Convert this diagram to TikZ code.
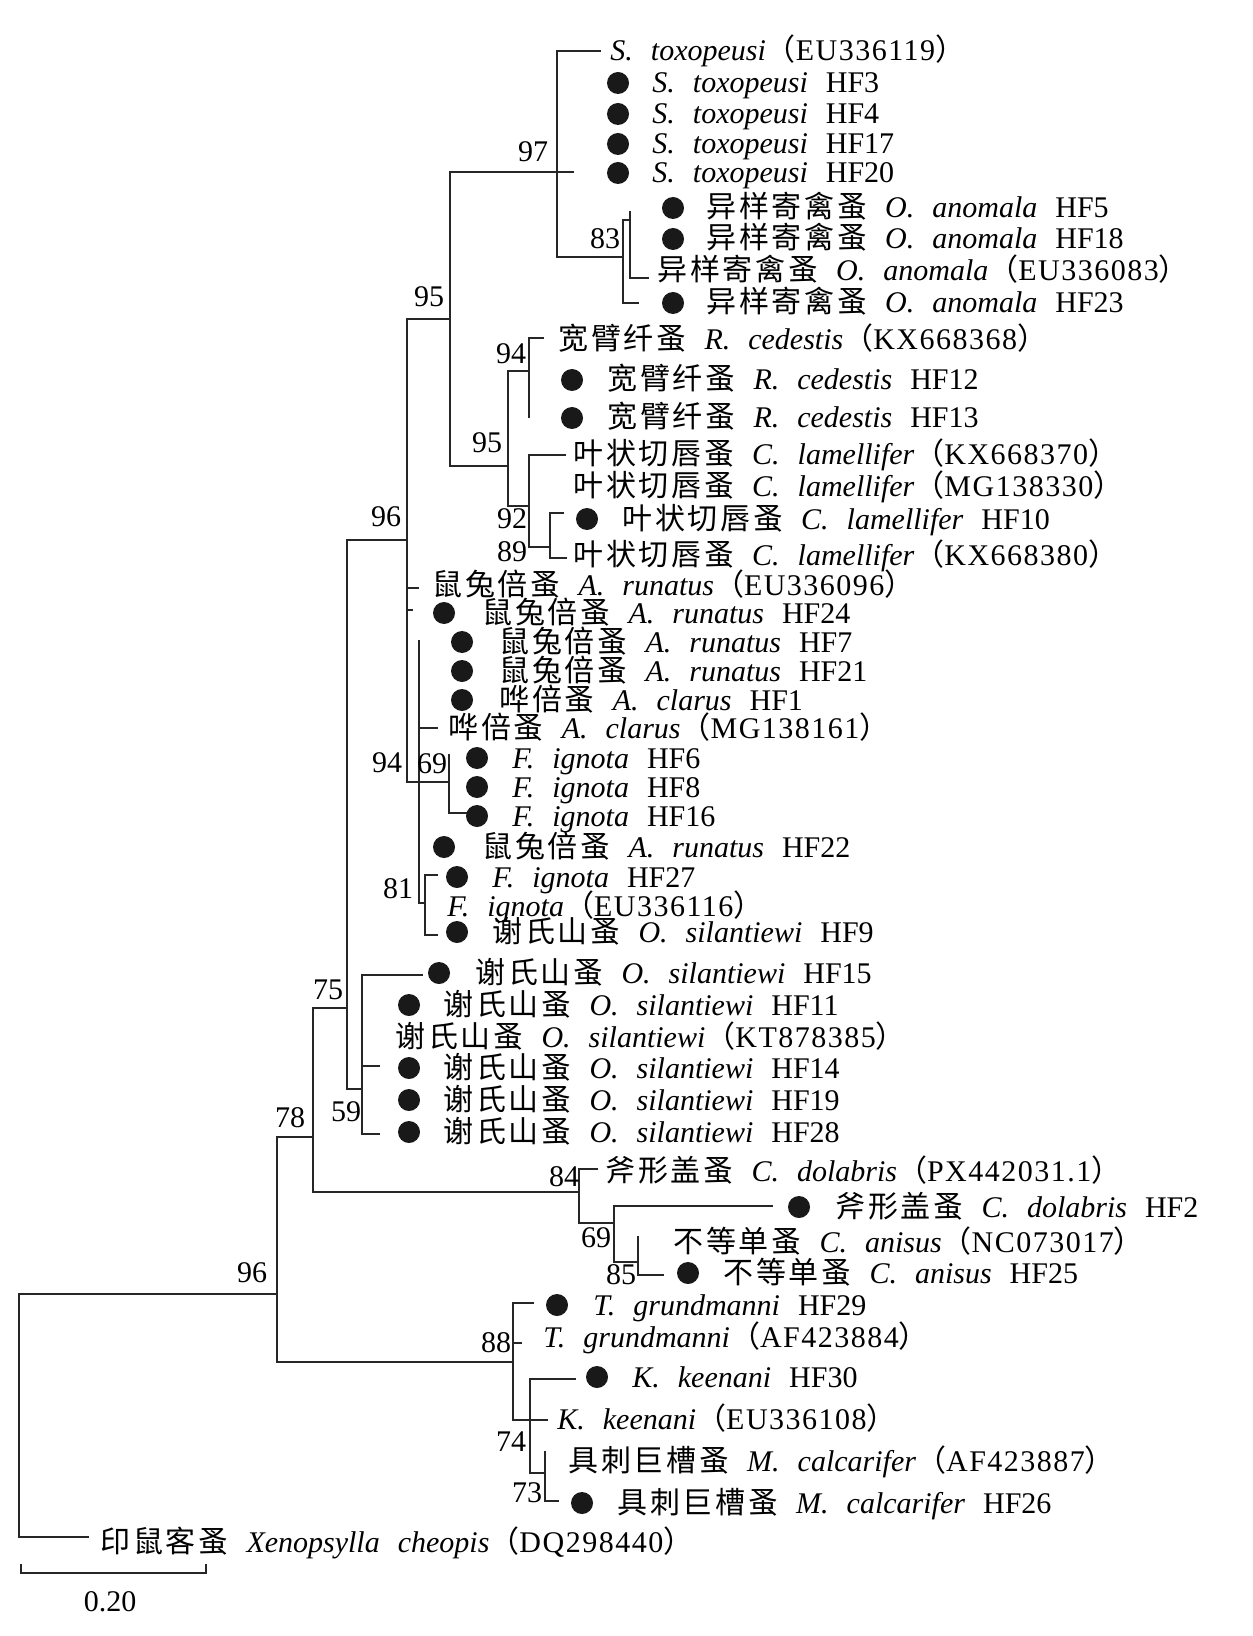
\documentclass[tikz,border=0pt]{standalone}
\usepackage{fontspec}
\setmainfont{Liberation Serif}
\newfontfamily\zhfont[LetterSpace=9]{Noto Sans CJK SC}
\newfontfamily\accfont[LetterSpace=5]{Liberation Serif}
\usetikzlibrary{positioning}
\newcommand{\zh}[1]{{\zhfont #1}}
\newcommand{\gap}{\hspace{0.6em}}
\newcommand{\accno}[1]{\zh{（}{\accfont #1}\zh{）}}
\tikzset{
  branch/.style={line width=0.9pt, draw=black!85, line cap=rect},
  tip/.style={anchor=base west, inner sep=0pt, yshift=-5pt, font=\fontsize{15}{18}\selectfont},
  dot/.style={circle, fill=black!90, inner sep=0pt, minimum size=11pt},
  boot/.style={inner sep=0pt, font=\fontsize{15}{18}\selectfont},
}
\begin{document}
\begin{tikzpicture}[x=0.5pt, y=-0.5pt]
\useasboundingbox (0,0) rectangle (1252,1636);

% inner nodes
\coordinate (root) at (19,1294);
\coordinate (nA) at (277,1294);
\coordinate (nB) at (313,1137);
\coordinate (nC) at (347,1008);
\coordinate (nD) at (407,540);
\coordinate (nE) at (450,319);
\coordinate (nF) at (557,172);
\coordinate (nG) at (623,257);
\coordinate (nH) at (630,220);
\coordinate (nI) at (508,466);
\coordinate (nJ) at (529,371);
\coordinate (nK) at (529,506);
\coordinate (nL) at (550,547);
\coordinate (nDb) at (407,782);
\coordinate (nM) at (419,782);
\coordinate (nN) at (449,782);
\coordinate (nO) at (425,903);
\coordinate (nP) at (362,1089);
\coordinate (nQ) at (579,1192);
\coordinate (nR) at (614,1223);
\coordinate (nS) at (638,1262);
\coordinate (nT) at (513,1362);
\coordinate (nU) at (530,1420);
\coordinate (nV) at (545,1473);

% branch ends
\coordinate (e1) at (600,51);
\coordinate (e5) at (573,172);
\coordinate (e6) at (630,212);
\coordinate (e8) at (648,278);
\coordinate (e9) at (638,303);
\coordinate (e10) at (543,338);
\coordinate (e12) at (529,417);
\coordinate (e13) at (565,455);
\coordinate (e15) at (563,513);
\coordinate (e16) at (566,558);
\coordinate (e17) at (418,588);
\coordinate (e18) at (412,610);
\coordinate (e19) at (419,641);
\coordinate (e22) at (437,728);
\coordinate (e23) at (449,755);
\coordinate (e25) at (467,813);
\coordinate (e27) at (437,875);
\coordinate (e29) at (437,935);
\coordinate (e30) at (422,975);
\coordinate (e33) at (379,1066);
\coordinate (e35) at (379,1134);
\coordinate (e36) at (597,1169);
\coordinate (e37) at (772,1206);
\coordinate (e38) at (638,1237);
\coordinate (e39) at (663,1275);
\coordinate (e40) at (533,1303);
\coordinate (e41) at (521,1343);
\coordinate (e42) at (575,1379);
\coordinate (e43) at (547,1420);
\coordinate (e44) at (545,1452);
\coordinate (e45) at (558,1501);
\coordinate (e46) at (88,1537);

\foreach \a/\b in {root/nA, root/e46, nA/nB, nA/nT, nB/nC, nB/nQ, nC/nD, nC/nP,
    nD/nE, nD/nDb, nE/nF, nE/nI, nF/e1, nF/e5, nF/nG, nG/nH, nG/e9, nH/e6, nH/e8,
    nI/nJ, nI/nK, nJ/e10, nJ/e12, nK/e13, nK/nL, nL/e15, nL/e16,
    nDb/e17, nDb/e18, nDb/nM, nM/e19, nM/e22, nM/nN, nM/nO, nN/e23, nN/e25,
    nO/e27, nO/e29, nP/e30, nP/e33, nP/e35, nQ/e36, nQ/nR, nR/e37, nR/nS,
    nS/e38, nS/e39, nT/e40, nT/e41, nT/nU, nU/e42, nU/e43, nU/nV, nV/e44, nV/e45}
  \draw[branch] (\a) |- (\b);

% bootstrap values
\node[boot] (b97) at (533,152) {97};
\node[boot] (b83) at (605,239) {83};
\node[boot] (b95a) at (429,297) {95};
\node[boot] (b94a) at (511,354) {94};
\node[boot] (b95b) at (487,443) {95};
\node[boot] (b96a) at (386,517) {96};
\node[boot] (b92) at (512,519) {92};
\node[boot] (b89) at (512,552) {89};
\node[boot] (b94b) at (387,763) {94};
\node[boot] (b69a) at (432,764) {69};
\node[boot] (b81) at (398,889) {81};
\node[boot] (b75) at (328,990) {75};
\node[boot] (b59) at (346,1112) {59};
\node[boot] (b78) at (290,1118) {78};
\node[boot] (b84) at (564,1177) {84};
\node[boot] (b69b) at (596,1238) {69};
\node[boot] (b85) at (621,1275) {85};
\node[boot] (b96b) at (252,1273) {96};
\node[boot] (b88) at (496,1343) {88};
\node[boot] (b74) at (511,1442) {74};
\node[boot] (b73) at (527,1493) {73};

% leaves
\node[tip] (l1) at (610,51) {\textit{S.}\gap\textit{toxopeusi}\accno{EU336119}};
\node[dot] (d2) at (618,83) {};
\node[tip] (l2) at (652,83) {\textit{S.}\gap\textit{toxopeusi}\gap HF3};
\node[dot] (d3) at (618,114) {};
\node[tip] (l3) at (652,114) {\textit{S.}\gap\textit{toxopeusi}\gap HF4};
\node[dot] (d4) at (618,144) {};
\node[tip] (l4) at (652,144) {\textit{S.}\gap\textit{toxopeusi}\gap HF17};
\node[dot] (d5) at (618,173) {};
\node[tip] (l5) at (652,173) {\textit{S.}\gap\textit{toxopeusi}\gap HF20};
\node[dot] (d6) at (673,208) {};
\node[tip] (l6) at (706,208) {\zh{异样寄禽蚤}\gap\textit{O.}\gap\textit{anomala}\gap HF5};
\node[dot] (d7) at (673,239) {};
\node[tip] (l7) at (706,239) {\zh{异样寄禽蚤}\gap\textit{O.}\gap\textit{anomala}\gap HF18};
\node[tip] (l8) at (657,271) {\zh{异样寄禽蚤}\gap\textit{O.}\gap\textit{anomala}\accno{EU336083}};
\node[dot] (d9) at (673,303) {};
\node[tip] (l9) at (706,303) {\zh{异样寄禽蚤}\gap\textit{O.}\gap\textit{anomala}\gap HF23};
\node[tip] (l10) at (558,340) {\zh{宽臂纤蚤}\gap\textit{R.}\gap\textit{cedestis}\accno{KX668368}};
\node[dot] (d11) at (572,380) {};
\node[tip] (l11) at (607,380) {\zh{宽臂纤蚤}\gap\textit{R.}\gap\textit{cedestis}\gap HF12};
\node[dot] (d12) at (572,418) {};
\node[tip] (l12) at (607,418) {\zh{宽臂纤蚤}\gap\textit{R.}\gap\textit{cedestis}\gap HF13};
\node[tip] (l13) at (573,455) {\zh{叶状切唇蚤}\gap\textit{C.}\gap\textit{lamellifer}\accno{KX668370}};
\node[tip] (l14) at (573,486) {\zh{叶状切唇蚤}\gap\textit{C.}\gap\textit{lamellifer}\accno{MG138330}};
\node[dot] (d15) at (587,519) {};
\node[tip] (l15) at (622,519) {\zh{叶状切唇蚤}\gap\textit{C.}\gap\textit{lamellifer}\gap HF10};
\node[tip] (l16) at (573,555) {\zh{叶状切唇蚤}\gap\textit{C.}\gap\textit{lamellifer}\accno{KX668380}};
\node[tip] (l17) at (432,585) {\zh{鼠兔倍蚤}\gap\textit{A.}\gap\textit{runatus}\accno{EU336096}};
\node[dot] (d18) at (444,613) {};
\node[tip] (l18) at (482,613) {\zh{鼠兔倍蚤}\gap\textit{A.}\gap\textit{runatus}\gap HF24};
\node[dot] (d19) at (462,642) {};
\node[tip] (l19) at (499,642) {\zh{鼠兔倍蚤}\gap\textit{A.}\gap\textit{runatus}\gap HF7};
\node[dot] (d20) at (462,671) {};
\node[tip] (l20) at (499,671) {\zh{鼠兔倍蚤}\gap\textit{A.}\gap\textit{runatus}\gap HF21};
\node[dot] (d21) at (462,700) {};
\node[tip] (l21) at (499,700) {\zh{哗倍蚤}\gap\textit{A.}\gap\textit{clarus}\gap HF1};
\node[tip] (l22) at (448,728) {\zh{哗倍蚤}\gap\textit{A.}\gap\textit{clarus}\accno{MG138161}};
\node[dot] (d23) at (477,758) {};
\node[tip] (l23) at (512,758) {\textit{F.}\gap\textit{ignota}\gap HF6};
\node[dot] (d24) at (477,787) {};
\node[tip] (l24) at (512,787) {\textit{F.}\gap\textit{ignota}\gap HF8};
\node[dot] (d25) at (477,816) {};
\node[tip] (l25) at (512,816) {\textit{F.}\gap\textit{ignota}\gap HF16};
\node[dot] (d26) at (444,847) {};
\node[tip] (l26) at (482,847) {\zh{鼠兔倍蚤}\gap\textit{A.}\gap\textit{runatus}\gap HF22};
\node[dot] (d27) at (457,877) {};
\node[tip] (l27) at (492,877) {\textit{F.}\gap\textit{ignota}\gap HF27};
\node[tip] (l28) at (447,906) {\textit{F.}\gap\textit{ignota}\accno{EU336116}};
\node[dot] (d29) at (457,932) {};
\node[tip] (l29) at (492,932) {\zh{谢氏山蚤}\gap\textit{O.}\gap\textit{silantiewi}\gap HF9};
\node[dot] (d30) at (439,973) {};
\node[tip] (l30) at (475,973) {\zh{谢氏山蚤}\gap\textit{O.}\gap\textit{silantiewi}\gap HF15};
\node[dot] (d31) at (409,1005) {};
\node[tip] (l31) at (443,1005) {\zh{谢氏山蚤}\gap\textit{O.}\gap\textit{silantiewi}\gap HF11};
\node[tip] (l32) at (395,1037) {\zh{谢氏山蚤}\gap\textit{O.}\gap\textit{silantiewi}\accno{KT878385}};
\node[dot] (d33) at (409,1068) {};
\node[tip] (l33) at (443,1068) {\zh{谢氏山蚤}\gap\textit{O.}\gap\textit{silantiewi}\gap HF14};
\node[dot] (d34) at (409,1100) {};
\node[tip] (l34) at (443,1100) {\zh{谢氏山蚤}\gap\textit{O.}\gap\textit{silantiewi}\gap HF19};
\node[dot] (d35) at (409,1132) {};
\node[tip] (l35) at (443,1132) {\zh{谢氏山蚤}\gap\textit{O.}\gap\textit{silantiewi}\gap HF28};
\node[tip] (l36) at (605,1171) {\zh{斧形盖蚤}\gap\textit{C.}\gap\textit{dolabris}\accno{PX442031.1}};
\node[dot] (d37) at (799,1207) {};
\node[tip] (l37) at (835,1207) {\zh{斧形盖蚤}\gap\textit{C.}\gap\textit{dolabris}\gap HF2};
\node[tip] (l38) at (673,1242) {\zh{不等单蚤}\gap\textit{C.}\gap\textit{anisus}\accno{NC073017}};
\node[dot] (d39) at (688,1273) {};
\node[tip] (l39) at (723,1273) {\zh{不等单蚤}\gap\textit{C.}\gap\textit{anisus}\gap HF25};
\node[dot] (d40) at (557,1305) {};
\node[tip] (l40) at (593,1305) {\textit{T.}\gap\textit{grundmanni}\gap HF29};
\node[tip] (l41) at (543,1337) {\textit{T.}\gap\textit{grundmanni}\accno{AF423884}};
\node[dot] (d42) at (597,1377) {};
\node[tip] (l42) at (632,1377) {\textit{K.}\gap\textit{keenani}\gap HF30};
\node[tip] (l43) at (557,1419) {\textit{K.}\gap\textit{keenani}\accno{EU336108}};
\node[dot] (d45) at (582,1503) {};
\node[tip] (l44) at (568,1461) {\zh{具刺巨槽蚤}\gap\textit{M.}\gap\textit{calcarifer}\accno{AF423887}};
\node[tip] (l45) at (617,1503) {\zh{具刺巨槽蚤}\gap\textit{M.}\gap\textit{calcarifer}\gap HF26};
\node[tip] (l46) at (100,1542) {\zh{印鼠客蚤}\gap\textit{Xenopsylla}\gap\textit{cheopis}\accno{DQ298440}};

% scale bar
\coordinate (sb1) at (21,1573);
\coordinate (sb2) at (206,1573);
\draw[branch] ([yshift=4pt]sb1) -- (sb1) -- (sb2) -- ([yshift=4pt]sb2);
\node[boot] (sblab) at (110,1602) {0.20};
\end{tikzpicture}
\end{document}
